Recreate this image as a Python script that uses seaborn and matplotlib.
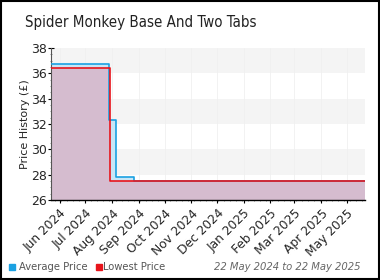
import matplotlib
matplotlib.use("Agg")
import matplotlib.pyplot as plt
import matplotlib.dates as mdates
import seaborn as sns
import pandas as pd
import numpy as np
from matplotlib.patches import Rectangle

title = "Spider Monkey Base And Two Tabs"
avg_dates = ["2024-05-22", "2024-07-29", "2024-08-06", "2024-08-26", "2025-05-22"]
avg_prices = [36.75, 32.3, 27.8, 27.5, 27.5]
low_dates = ["2024-05-22", "2024-07-30", "2025-05-22"]
low_prices = [36.45, 27.5, 27.5]
y_ticks = [26, 28, 30, 32, 34, 36, 38]
legend_labels = ["Average Price", "Lowest Price"]
range_text = "22 May 2024 to 22 May 2025"

sns.set_theme(style="white")
plt.rcParams["font.family"] = ["DejaVu Sans"]

avg_df = pd.DataFrame({"date": pd.to_datetime(avg_dates), "price": avg_prices})
low_df = pd.DataFrame({"date": pd.to_datetime(low_dates), "price": low_prices})

fig = plt.figure(figsize=(3.8, 2.8), dpi=100)
ax = fig.add_axes([51/380, 80/280, 314/380, 152/280])

# background stripes
for lo in (36, 32, 28):
    ax.axhspan(lo, lo + 2, color="#f4f4f4", zorder=0, lw=0)

blue = "#1ba1e2"
red = "#e8141b"
ax.fill_between(avg_df["date"], avg_df["price"], 26, step="post",
                color="#c8e6f6", zorder=1, lw=0)
ax.fill_between(low_df["date"], low_df["price"], 26, step="post",
                color="#d5bccf", zorder=2, lw=0)
sns.lineplot(data=avg_df, x="date", y="price", drawstyle="steps-post",
             color=blue, lw=1.2, ax=ax, zorder=3)
sns.lineplot(data=low_df, x="date", y="price", drawstyle="steps-post",
             color=red, lw=1.2, ax=ax, zorder=4)

ax.set_xlim(pd.Timestamp("2024-05-22"), pd.Timestamp("2025-05-22"))
ax.set_ylim(26, 38)
ax.set_yticks(y_ticks)
ax.yaxis.set_minor_locator(matplotlib.ticker.MultipleLocator(0.5))
ax.xaxis.set_major_locator(mdates.MonthLocator())
ax.xaxis.set_major_formatter(mdates.DateFormatter("%b %Y"))
ax.xaxis.set_minor_locator(mdates.WeekdayLocator(byweekday=mdates.MO))
ax.grid(axis="x", which="major", color="#f0f0f0", lw=0.6, zorder=0)
for lbl in ax.get_xticklabels():
    lbl.set_rotation(45)
    lbl.set_ha("right")
    lbl.set_rotation_mode("anchor")
    lbl.set_fontsize(8.8)
ax.tick_params(axis="x", which="major", length=4, width=0.8, color="black",
               pad=3, direction="inout")
ax.tick_params(axis="x", which="minor", length=2, width=0.5, color="#666666",
               direction="inout")
ax.tick_params(axis="y", which="major", length=4, width=0.8, color="black",
               labelsize=9, pad=1, direction="inout")
ax.tick_params(axis="y", which="minor", length=2, width=0.5, color="#666666",
               direction="inout")
ax.tick_params(bottom=True, left=True, which="both")
for s in ("top", "right"):
    ax.spines[s].set_visible(False)
ax.spines["left"].set_color("#555555")
ax.spines["left"].set_linewidth(0.8)
ax.spines["bottom"].set_color("black")
ax.spines["bottom"].set_linewidth(1.0)
ax.set_xlabel("")
ax.set_ylabel("Price History (£)", fontsize=8, labelpad=1)

cond = dict(family=["DejaVu Sans"], fontstretch="condensed")
fig.text(25/380, 1 - 22/280, title, fontsize=10.8, va="center", ha="left",
         color="#222222", **cond)

# legend
fig.patches.append(Rectangle((9/380, 1 - 270/280), 6/380, 6/280,
                             transform=fig.transFigure, color=blue))
fig.text(19/380, 1 - 267/280, legend_labels[0], fontsize=8, va="center",
         color="#555555", **cond)
fig.patches.append(Rectangle((96/380, 1 - 270/280), 6/380, 6/280,
                             transform=fig.transFigure, color=red))
fig.text(103/380, 1 - 267/280, legend_labels[1], fontsize=8, va="center",
         color="#555555", **cond)
fig.text(360/380, 1 - 267/280, range_text, fontsize=8, va="center", ha="right",
         color="#666666", style="italic", **cond)

fig.patches.append(Rectangle((0.002, 0.003), 0.995, 0.994,
                             transform=fig.transFigure, fill=False,
                             edgecolor="black", lw=1.5))

fig.savefig("out.png", dpi=100)
